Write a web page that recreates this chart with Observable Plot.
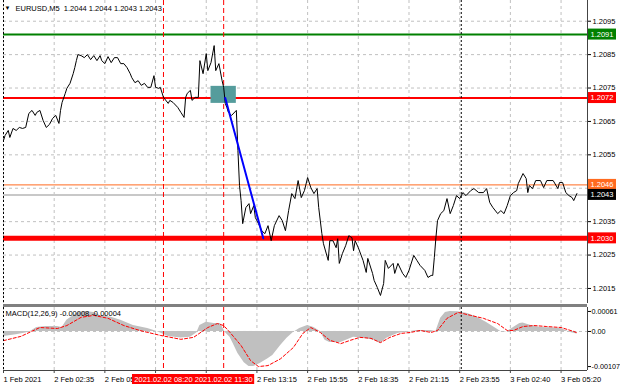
<!DOCTYPE html>
<html><head><meta charset="utf-8">
<script src="https://cdn.jsdelivr.net/npm/d3@7"></script>
<script src="https://cdn.jsdelivr.net/npm/@observablehq/plot@0.6"></script>
<style>
body{margin:0;background:#fff;}
#wrap{position:relative;width:620px;height:388px;overflow:hidden;background:#fff;}
#main,#sub{position:absolute;left:0;}
#main{top:0;}
#sub{top:303px;}
</style></head><body><div id="wrap"><div id="main"></div><div id="sub"></div></div>
<script>
// ---- data ----
const symbol = "EURUSD,M5";
const ohlc = [1.2044, 1.2044, 1.2043, 1.2043];
const macdHeader = [-0.00008, -0.00004];

const priceBars = [0,1,3,4,6,8,10,12,14,16,18,20,21,23,25,27,29,31,33,35,36,37,39,40,42,44,45,46,47,49,51,53,55,57,59,61,62,64,66,68,70,72,74,76,78,80,81,83,85,87,89,91,93,95,96,98,99,101,104,105,107,110,112,114,115,116,118,119,121,123,124,126,128,129,131,133,134,136,138,139,140,141,142,144,147,148,149,150,151,153,155,156,158,159,161,163,165,167,169,171,174,176,178,180,182,184,186,188,190,192,194,196,198,199,201,202,205,206,208,210,211,212,214,216,218,220,221,222,224,227,229,230,233,234,236,238,240,241,243,246,247,249,252,254,256,259,261,263,266,268,270,271,272,273,274,276,278,280,282,284,286,288,290,292,295,297,300,303,305,307,309,312,314,316,318,320,322,324,325,328,330,331,332,334,336,339,341,343,347,350,351,353,355,357,359,360,362];
const priceValues = [1.20593,1.20608,1.20623,1.20602,1.20629,1.20623,1.20632,1.20629,1.20632,1.20674,1.20683,1.20668,1.20677,1.20683,1.20653,1.20632,1.20641,1.20659,1.20668,1.20644,1.20683,1.20707,1.20734,1.20749,1.20764,1.20793,1.20811,1.20832,1.20850,1.20847,1.20841,1.20850,1.20835,1.20847,1.20832,1.20847,1.20832,1.20823,1.20844,1.20826,1.20841,1.20841,1.20823,1.20823,1.20811,1.20793,1.20781,1.20766,1.20772,1.20758,1.20764,1.20752,1.20752,1.20787,1.20752,1.20749,1.20752,1.20722,1.20704,1.20713,1.20707,1.20692,1.20677,1.20662,1.20722,1.20734,1.20743,1.20713,1.20722,1.20722,1.20832,1.20793,1.20853,1.20802,1.20826,1.20877,1.20802,1.20823,1.20772,1.20752,1.20704,1.20692,1.20677,1.20668,1.20683,1.20563,1.20458,1.20413,1.20344,1.20392,1.20404,1.20374,1.20398,1.20362,1.20344,1.20323,1.20314,1.20338,1.20293,1.20338,1.20368,1.20353,1.20323,1.20383,1.20434,1.20419,1.20473,1.20422,1.20443,1.20482,1.20452,1.20434,1.20449,1.20392,1.20314,1.20284,1.20234,1.20293,1.20293,1.20272,1.20299,1.20225,1.20255,1.20278,1.20308,1.20302,1.20263,1.20293,1.20272,1.20234,1.20198,1.20240,1.20195,1.20174,1.20153,1.20129,1.20165,1.20234,1.20210,1.20225,1.20195,1.20225,1.20195,1.20183,1.20204,1.20249,1.20234,1.20219,1.20204,1.20183,1.20189,1.20189,1.20243,1.20302,1.20353,1.20374,1.20383,1.20419,1.20374,1.20398,1.20428,1.20419,1.20437,1.20428,1.20443,1.20449,1.20437,1.20437,1.20449,1.20407,1.20392,1.20374,1.20383,1.20374,1.20398,1.20428,1.20437,1.20443,1.20464,1.20494,1.20479,1.20437,1.20458,1.20449,1.20473,1.20473,1.20452,1.20473,1.20473,1.20449,1.20467,1.20467,1.20437,1.20428,1.20422,1.20413,1.20434];

const macdBars = [0,8,14,17,21,27,34,37,40,47,52,57,61,68,74,82,91,97,104,112,118,122,124,128,133,137,140,143,145,148,152,155,158,162,167,170,175,179,183,187,192,196,200,203,206,213,221,228,234,238,242,249,261,270,273,276,279,282,287,293,299,305,311,315,318,322,326,328,333,339,345,352,358,362];
const macdValues = [-0.00015,-0.0001,-0.00005,0,0.00012,0.00015,0.00015,0.00012,0.00034,0.00058,0.00061,0.00058,0.00049,0.00043,0.00034,0.00018,0.00009,0,-0.00015,-0.0002,-0.00018,-0.00005,0.00018,0.00028,0.00024,0.00024,-0.00003,-0.00018,-0.00037,-0.00067,-0.00095,-0.00107,-0.00107,-0.00098,-0.00083,-0.00073,-0.00043,-0.00021,-0.00003,0.00009,0.00018,0.00012,0,-0.00027,-0.00034,-0.00034,-0.00018,-0.00021,-0.00027,-0.00037,-0.00021,-0.00006,0.00003,0.00003,0,0.0004,0.00058,0.00061,0.0006,0.00055,0.00043,0.00027,0.00009,-0.00003,0,0.00012,0.00024,0.00026,0.00018,0.00012,0.00011,0.00009,-0.00003,-0.00008];
const signalBars = [0,11,23,34,40,49,57,66,76,86,99,112,120,129,135,139,143,150,156,161,167,175,183,189,194,200,206,213,219,225,232,238,244,251,257,263,270,274,280,287,295,303,312,318,322,328,335,343,352,360,362];
const signalValues = [-0.00028,-0.00015,0.00012,0.00009,0.00018,0.00043,0.00049,0.0004,0.00018,0.00003,-0.00012,-0.00024,-0.00018,0.00012,0.00024,0.00018,-0.00003,-0.00043,-0.00089,-0.00107,-0.00104,-0.00083,-0.00049,-0.00006,0.00012,-0.00003,-0.00027,-0.00037,-0.00027,-0.00018,-0.00021,-0.00034,-0.00018,-0.00006,-0.00003,0.00003,-0.00003,0.00003,0.0004,0.00058,0.00049,0.0004,0.00024,0.00003,0.00003,0.00015,0.00018,0.00015,0.00012,0,-0.00004];

const priceTicks = [1.2095,1.2085,1.2075,1.2065,1.2055,1.2045,1.2035,1.2025,1.2015];
const macdTicks = [0.00061, 0, -0.00107];
const macdTickLabels = ["0.00061","0.00","-0.00107"];
const timeTickBars = [0,32,64,96,128,160,192,224,256,288,320,352];
const timeTickLabels = ["1 Feb 2021","2 Feb 02:35","2 Feb 05:15","2 Feb 07:55","2 Feb 10:35","2 Feb 13:15","2 Feb 15:55","2 Feb 18:35","2 Feb 21:15","2 Feb 23:55","3 Feb 02:40","3 Feb 05:20"];

const levelPrices = [1.2091, 1.2072, 1.2046, 1.2043, 1.2030];
const levelLabels = ["1.2091","1.2072","1.2046","1.2043","1.2030"];
const markerBars = [101, 139];
const markerLabels = ["2021.02.02 08:20","2021.02.02 11:30"];
const separatorBars = [0, 289];
const boxBars = [131, 147];
const boxPrices = [1.20704, 1.20755];
const trendBars = [140, 164];
const trendPrices = [1.2072, 1.2030];

// ---- styles ----
const levelColors = ["#008000","#ff0000","#ff6a1f","#c8c8c8","#ff0000"];
const levelWidths = [2, 2, 1, 2, 5];
const levelLabelBg = ["#008000","#ff0000","#ff6a1f","#000000","#ff0000"];
const FONT = "'Liberation Sans', Arial, sans-serif";
const FS = 7.5;
const xMax = 368.7;
const gridStyle = {stroke:"#c0c0c0", strokeOpacity:1, strokeDasharray:"3,3"};

const priceRows = priceBars.map((b,i)=>({bar:b, price:priceValues[i]}));
const macdRows = macdBars.map((b,i)=>({bar:b, value:macdValues[i]}));
const signalRows = signalBars.map((b,i)=>({bar:b, value:signalValues[i]}));
const timeRows = timeTickBars.map((b,i)=>({bar:b, label:timeTickLabels[i]}));
const markerRows = markerBars.map((b,i)=>({bar:b, label:markerLabels[i]}));
const trendRows = trendBars.map((b,i)=>({bar:b, price:trendPrices[i]}));
const levels = levelPrices.map((p,i)=>({price:p, label:levelLabels[i], color:levelColors[i], width:levelWidths[i], bg:levelLabelBg[i]}));

// axis labels hidden behind the level tags / time markers are not drawn (as in the terminal)
const visiblePriceTicks = priceTicks.filter(t => levelPrices.every(p => Math.abs(p - t) > 0.00025));
const visibleTimeRows = timeRows.filter(r => markerBars.every(m => r.bar < m - 25 || r.bar > m + 20));

const headerText = symbol + "  " + ohlc.map(v=>v.toFixed(4)).join(" ");

const mainMarks = [
  Plot.gridY(priceTicks, gridStyle),
  Plot.gridX(timeTickBars, gridStyle),
  ...levels.map(l => Plot.ruleY([l.price], {stroke:l.color, strokeWidth:l.width})),
  Plot.ruleX(markerBars, {stroke:"#ff0000", strokeDasharray:"5,3", strokeWidth:1}),
  Plot.ruleX(separatorBars, {stroke:"#000", strokeDasharray:"2,2", strokeWidth:1}),
  Plot.rect([0], {x1:()=>boxBars[0], x2:()=>boxBars[1], y1:()=>boxPrices[0], y2:()=>boxPrices[1], fill:"#559c9c"}),
  Plot.line(priceRows, {x:"bar", y:"price", stroke:"#000", strokeWidth:1}),
  Plot.line(trendRows, {x:"bar", y:"price", stroke:"#0000ff", strokeWidth:2}),
  Plot.ruleX([xMax], {stroke:"#444", strokeWidth:1}),
  Plot.axisY(visiblePriceTicks, {anchor:"right", tickSize:3, tickPadding:2, tickFormat:d=>d.toFixed(4), fontSize:FS, label:null}),
  ...levels.map(l => Plot.rect([l], {x1:()=>xMax, x2:()=>xMax, y1:"price", y2:"price", insetLeft:1, insetRight:-29, insetTop:-5.5, insetBottom:-5.5, fill:l.bg})),
  ...levels.map(l => Plot.text([l], {x:()=>xMax, y:"price", text:"label", dx:3, textAnchor:"start", fill:"#fff", fontSize:FS})),
  Plot.text(["\u25BC"], {text:d=>d, frameAnchor:"top-left", dx:4, dy:8, lineAnchor:"middle", textAnchor:"middle", fontSize:6, fill:"#000"}),
  Plot.text([headerText], {text:d=>d, frameAnchor:"top-left", dx:12, dy:8, lineAnchor:"middle", textAnchor:"start", fontSize:FS, fill:"#000"})
];

const main = Plot.plot({
  width:620, height:304, marginLeft:3, marginRight:33, marginTop:0, marginBottom:0,
  x:{domain:[0,xMax], axis:null, label:null},
  y:{domain:[1.20102, 1.21012], axis:null, label:null},
  style:{fontFamily:FONT, fontSize:FS+"px", background:"#fff", overflow:"visible"},
  marks: mainMarks
});
document.getElementById("main").appendChild(main);

const macdTop = 0.00073, macdBottom = -0.00119;
const macdText = "MACD(12,26,9) " + macdHeader.map(v=>v.toFixed(5)).join(" ");

const sub = Plot.plot({
  width:620, height:85, marginLeft:3, marginRight:33, marginTop:4, marginBottom:18,
  x:{domain:[0,xMax], axis:null, label:null},
  y:{domain:[macdBottom, macdTop], axis:null, label:null},
  style:{fontFamily:FONT, fontSize:FS+"px", background:"#fff", overflow:"visible"},
  marks:[
    Plot.gridX(timeTickBars, gridStyle),
    Plot.ruleY([0], gridStyle),
    Plot.areaY(macdRows, {x:"bar", y:"value", fill:"#c0c0c0"}),
    Plot.line(signalRows, {x:"bar", y:"value", stroke:"#ff0000", strokeDasharray:"3,2", strokeWidth:1}),
    Plot.ruleX(markerBars, {stroke:"#ff0000", strokeDasharray:"5,3", strokeWidth:1}),
    Plot.ruleX(separatorBars, {stroke:"#000", strokeDasharray:"2,2", strokeWidth:1}),
    Plot.ruleY([macdTop], {stroke:"#808080", strokeWidth:3, dy:-2}),
    Plot.ruleY([macdBottom], {stroke:"#444", strokeWidth:1}),
    Plot.ruleX([xMax], {stroke:"#444", strokeWidth:1}),
    Plot.axisY(macdTicks, {anchor:"right", tickSize:3, tickPadding:1, tickFormat:d=>macdTickLabels[macdTicks.indexOf(d)], fontSize:7.2, label:null}),
    Plot.text([macdText], {text:d=>d, frameAnchor:"top-left", dx:2, dy:6, lineAnchor:"middle", textAnchor:"start", fontSize:FS, fill:"#000"}),
    Plot.ruleX(timeRows, {x:"bar", y1:()=>macdBottom, y2:()=>macdBottom, insetBottom:-3, stroke:"#444"}),
    Plot.text(visibleTimeRows, {x:"bar", text:"label", frameAnchor:"bottom", dy:9, lineAnchor:"middle", textAnchor:"start", fontSize:FS, fill:"#000"}),
    Plot.rect(markerRows, {x1:"bar", x2:"bar", y1:()=>macdBottom, y2:()=>macdBottom, insetLeft:-31, insetRight:-31, insetTop:4, insetBottom:-14, fill:"#ff0000"}),
    Plot.text(markerRows, {x:"bar", text:"label", frameAnchor:"bottom", dy:9, lineAnchor:"middle", textAnchor:"middle", fontSize:FS, fill:"#fff"})
  ]
});
document.getElementById("sub").appendChild(sub);
</script></body></html>
